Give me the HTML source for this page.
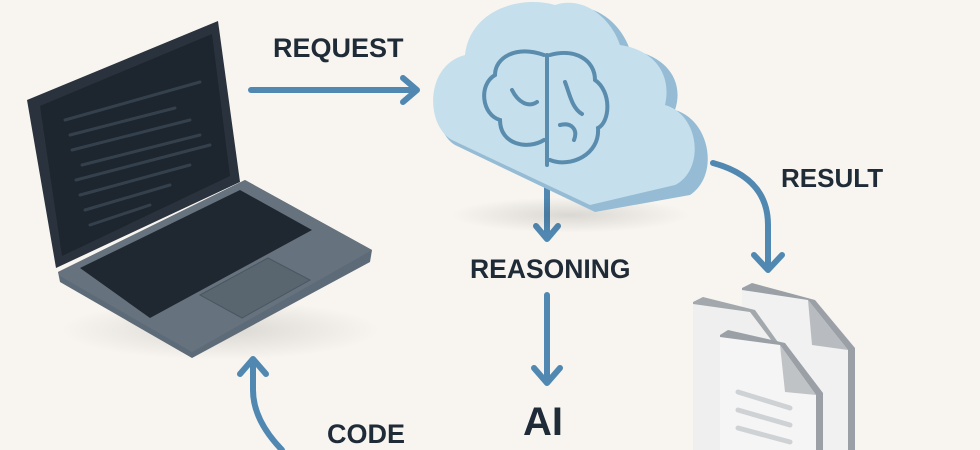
<!DOCTYPE html>
<html><head><style>
html,body{margin:0;padding:0;background:#f8f5f0;}
svg{display:block}
text{font-family:"Liberation Sans",sans-serif;font-weight:bold;fill:#1f2b37}
</style></head><body>
<svg width="980" height="450" viewBox="0 0 980 450">
<defs>
<radialGradient id="sh" cx="0.5" cy="0.5" r="0.5"><stop offset="0" stop-color="#000" stop-opacity="0.12"/><stop offset="1" stop-color="#000" stop-opacity="0"/></radialGradient>
</defs>
<rect width="980" height="450" fill="#f8f5f0"/>
<!-- laptop -->
<ellipse cx="220" cy="330" rx="160" ry="30" fill="url(#sh)"/>
<polygon points="58,272 245,180 372,250 370,262 192,358 60,282" fill="#5d6b78"/>
<polygon points="58,272 245,180 372,250 192,352 60,276" fill="#66737f"/>
<polygon points="80,268 240,190 312,230 150,318" fill="#1f2731"/>
<polygon points="200,295 268,258 310,280 242,318" fill="#59666f" stroke="#4a5660"/>
<polygon points="27,100 218,21 240,182 56,268" fill="#2a333d"/>
<polygon points="40,106 212,34 230,176 62,256" fill="#1d252e"/>
<g stroke="#34414d" stroke-width="3" stroke-linecap="round">
<line x1="65" y1="120" x2="200" y2="82"/><line x1="70" y1="135" x2="175" y2="108"/>
<line x1="72" y1="150" x2="190" y2="120"/><line x1="82" y1="165" x2="200" y2="135"/>
<line x1="76" y1="180" x2="210" y2="145"/><line x1="80" y1="195" x2="190" y2="165"/>
<line x1="85" y1="210" x2="170" y2="185"/><line x1="90" y1="225" x2="150" y2="205"/>
</g>
<!-- arrows -->
<g stroke="#5088b2" stroke-width="6" fill="none" stroke-linecap="round" stroke-linejoin="round">
<line x1="251" y1="90" x2="415" y2="90"/><polyline points="403,78 417,90 403,102"/>
<line x1="547" y1="178" x2="547" y2="235"/><polyline points="536,226 547,239 558,226"/>
<line x1="547" y1="295" x2="547" y2="380"/><polyline points="534,368 547,383 560,368"/>
<path d="M713,163 Q768,178 768,225 L768,268"/><polyline points="754,255 768,270 782,255"/>
<path d="M282,450 Q253,420 253,390 L253,362"/><polyline points="240,374 253,359 266,374"/>
</g>
<!-- cloud -->
<ellipse cx="570" cy="215" rx="120" ry="18" fill="url(#sh)"/>
<path d="M455,145 C430,130 430,70 470,60 C480,20 530,0 565,10 C590,0 620,20 630,50 C665,55 685,80 675,110 C710,120 720,175 690,195 L595,212 Z" fill="#95bcd4"/>
<path d="M452,140 C425,125 425,65 465,55 C470,10 520,-5 555,5 C585,-5 612,20 620,45 C655,50 672,75 665,105 C700,115 705,170 675,185 L590,205 Z" fill="#c5dfec"/>
<g stroke="#5a8cae" stroke-width="4" fill="none" stroke-linecap="round">
<path d="M544,55 C515,45 495,58 495,75 C478,85 482,115 500,120 C500,145 528,150 544,140"/>
<path d="M550,55 C575,48 595,60 595,80 C612,92 610,122 598,128 C600,155 570,168 550,160"/>
<line x1="547" y1="55" x2="547" y2="165"/>
<path d="M512,90 C518,102 528,108 537,102"/><path d="M565,82 C570,95 572,108 582,114"/><path d="M560,125 C572,122 578,130 574,140"/>
</g>
<!-- labels -->
<text x="273" y="57" font-size="27">REQUEST</text>
<text x="470" y="278" font-size="26.5">REASONING</text>
<text x="523" y="435" font-size="40">AI</text>
<text x="781" y="187" font-size="26">RESULT</text>
<text x="327" y="443" font-size="27">CODE</text>
<!-- documents -->
<!-- back right doc -->
<polygon points="742,288 752,283 815,300 855,348 855,450 850,450 742,450" fill="#9aa0a6"/>
<polygon points="742,290 808,300 848,350 848,450 742,450" fill="#f1f1f1"/>
<polygon points="808,300 848,350 812,345" fill="#b8bcc0"/>
<!-- back left doc -->
<polygon points="693,302 703,297 755,310 780,345 780,450 693,450" fill="#a3a8ad"/>
<polygon points="693,304 750,312 775,345 775,450 693,450" fill="#efefef"/>
<!-- front doc -->
<polygon points="720,335 728,330 785,343 823,393 823,450 720,450" fill="#9aa0a6"/>
<polygon points="720,337 780,345 816,395 816,450 720,450" fill="#f5f5f5"/>
<polygon points="780,345 816,395 785,392" fill="#c0c3c6"/>
<g stroke="#cfd2d5" stroke-width="5" stroke-linecap="round"><line x1="738" y1="392" x2="790" y2="408"/><line x1="738" y1="410" x2="790" y2="425"/><line x1="738" y1="428" x2="790" y2="442"/></g>
</svg>
</body></html>
